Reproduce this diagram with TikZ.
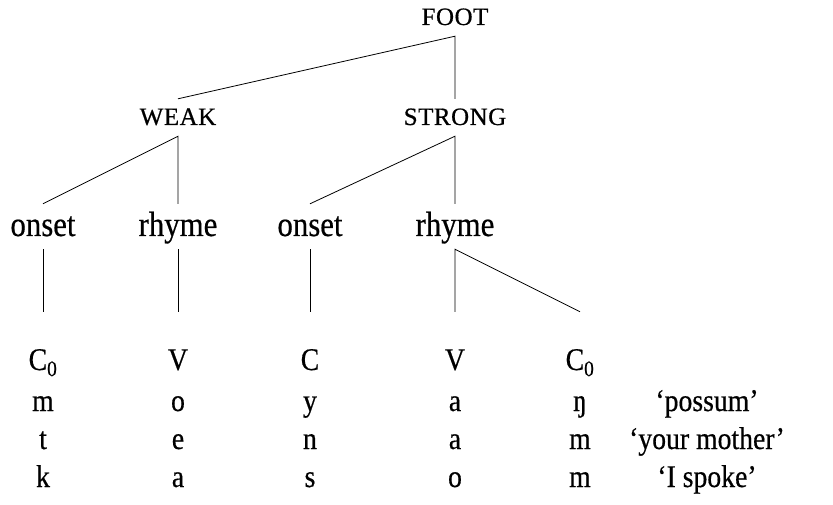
\documentclass[tikz,border=0pt]{standalone}
\usepackage{fontspec}
\setmainfont{Liberation Serif}
\begin{document}
\begin{tikzpicture}[x=1pt,y=-1pt,
  sclabel/.style={font=\fontsize{25}{29}\selectfont\addfontfeature{LetterSpace=2,FakeBold=0.6}, anchor=base, text height=15pt, text depth=0pt, inner xsep=0pt, inner ysep=11pt},
  treelabel/.style={font=\fontsize{35}{40}\selectfont\addfontfeature{FakeStretch=0.88,FakeBold=0.5}, anchor=base, text height=22pt, text depth=3pt, inner xsep=0pt, inner ysep=10pt},
  colhead/.style={font=\fontsize{31.5}{36}\selectfont\addfontfeature{FakeStretch=0.88,FakeBold=0.5}, anchor=base, text height=19pt, text depth=0pt, inner xsep=0pt, inner ysep=39pt},
  cell/.style={font=\fontsize{31.5}{36}\selectfont\addfontfeature{FakeStretch=0.88,FakeBold=0.5}, anchor=base, inner sep=0pt},
  branch/.style={line width=0.8pt}]
\useasboundingbox (0,0) rectangle (833,505);
% tree
\node[sclabel] (foot) at (455,25) {FOOT};
\node[sclabel] (weak) at (178,125) {WEAK};
\node[sclabel] (strong) at (455,125) {STRONG};
\node[treelabel] (on1) at (43,236) {onset};
\node[treelabel] (rh1) at (178,236) {rhyme};
\node[treelabel] (on2) at (310,236) {onset};
\node[treelabel] (rh2) at (455,236) {rhyme};
\node[colhead] (c1) at (43,370) {C\textsubscript{0}};
\node[colhead] (c2) at (178,370) {V};
\node[colhead] (c3) at (310,370) {C};
\node[colhead] (c4) at (455,370) {V};
\node[colhead] (c5) at (580,370) {C\textsubscript{0}};
\draw[branch] (weak.north) -- (foot.south) -- (strong.north);
\draw[branch] (on1.north) -- (weak.south) -- (rh1.north);
\draw[branch] (on2.north) -- (strong.south) -- (rh2.north);
\draw[branch] (on1.south) -- (c1.north);
\draw[branch] (rh1.south) -- (c2.north);
\draw[branch] (on2.south) -- (c3.north);
\draw[branch] (c4.north) -- (rh2.south) -- (c5.north);
% data rows
\node[cell] (r1a) at (43,411) {m};
\node[cell] (r1b) at (178,411) {o};
\node[cell] (r1c) at (310,411) {y};
\node[cell] (r1d) at (455,411) {a};
\node[cell] (r1e) at (580,411) {ŋ};
\node[cell] (r1g) at (707,411) {‘possum’};
\node[cell] (r2a) at (43,449) {t};
\node[cell] (r2b) at (178,449) {e};
\node[cell] (r2c) at (310,449) {n};
\node[cell] (r2d) at (455,449) {a};
\node[cell] (r2e) at (580,449) {m};
\node[cell] (r2g) at (707,449) {‘your mother’};
\node[cell] (r3a) at (43,487) {k};
\node[cell] (r3b) at (178,487) {a};
\node[cell] (r3c) at (310,487) {s};
\node[cell] (r3d) at (455,487) {o};
\node[cell] (r3e) at (580,487) {m};
\node[cell] (r3g) at (707,487) {‘I spoke’};
\end{tikzpicture}
\end{document}
